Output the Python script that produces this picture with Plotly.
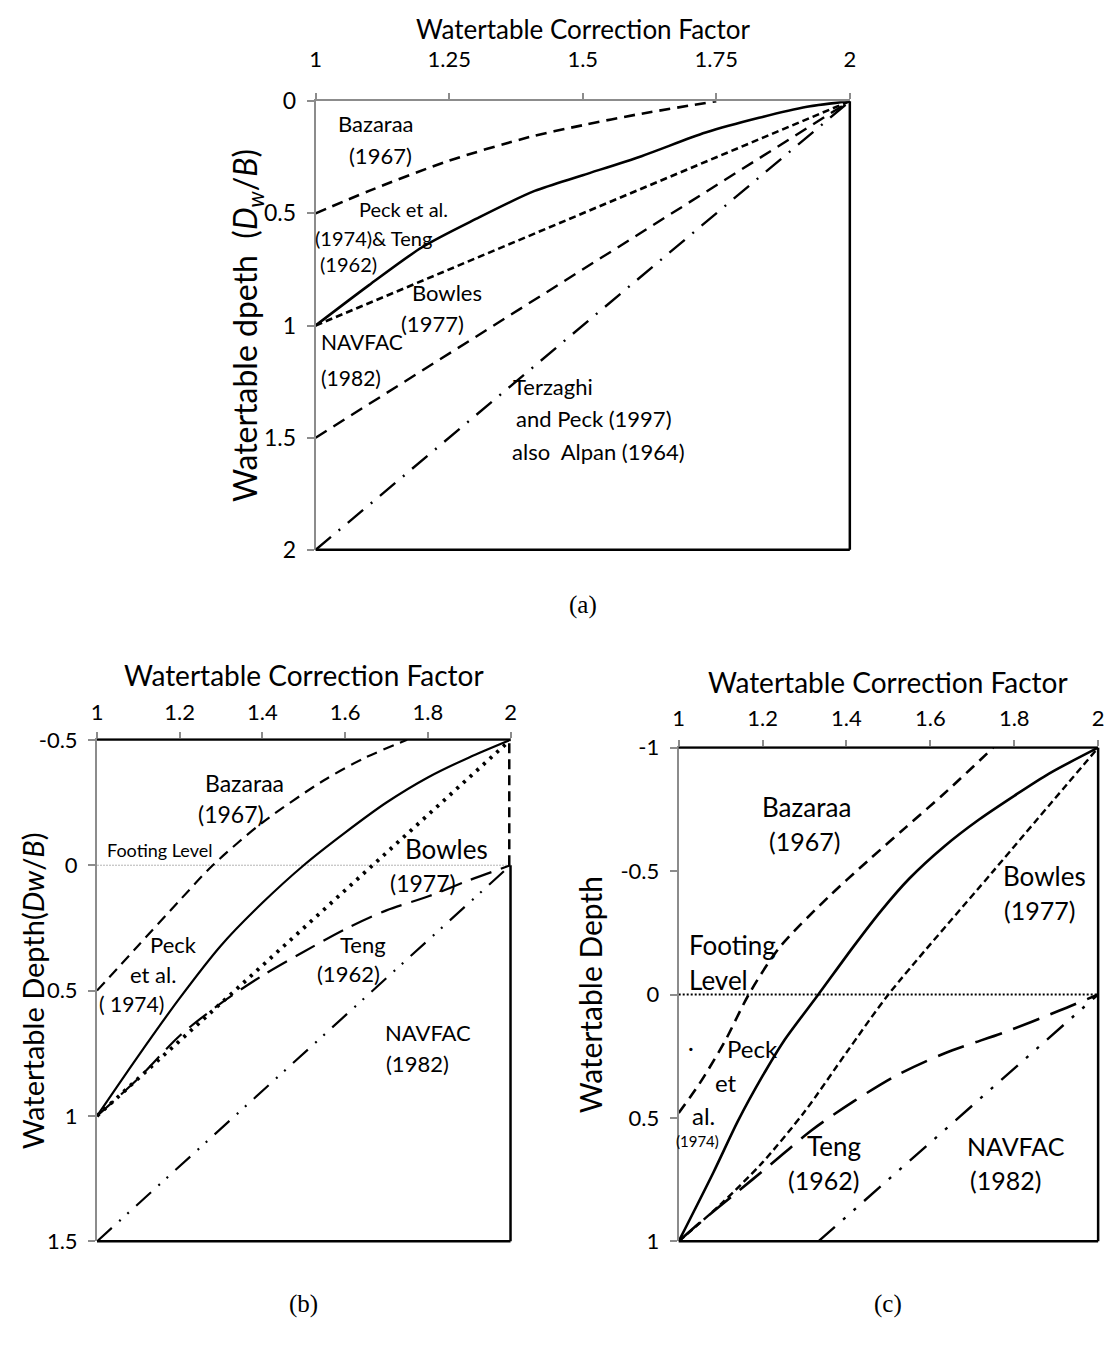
import plotly.graph_objects as go

# ---------------- data ----------------
# Panel (a): correction factor vs. watertable depth (Dw/B)
A_X_TICKS = [1, 1.25, 1.5, 1.75, 2]
A_Y_TICKS = [0, 0.5, 1, 1.5, 2]
A_BAZARAA_X = [1.0, 1.1, 1.25, 1.4, 1.5, 1.6, 1.75]
A_BAZARAA_Y = [0.5, 0.40, 0.265, 0.16, 0.107, 0.06, 0.0]
A_PECK_TENG_X = [1.0, 1.1, 1.2, 1.3, 1.41, 1.5, 1.61, 1.73, 1.83, 1.92, 2.0]
A_PECK_TENG_Y = [1.0, 0.82, 0.65, 0.525, 0.40, 0.33, 0.245, 0.14, 0.074, 0.025, 0.0]
A_BOWLES_X = [1, 2]
A_BOWLES_Y = [1, 0]
A_NAVFAC_X = [1, 2]
A_NAVFAC_Y = [1.5, 0]
A_TERZAGHI_X = [1, 2]
A_TERZAGHI_Y = [2, 0]

# Panel (b)
B_X_TICKS = [1, 1.2, 1.4, 1.6, 1.8, 2]
B_Y_TICKS = [-0.5, 0, 0.5, 1, 1.5]
B_BAZARAA_X = [1.0, 1.1, 1.2, 1.28, 1.4, 1.55, 1.65, 1.75]
B_BAZARAA_Y = [0.5, 0.32, 0.14, 0.0, -0.17, -0.34, -0.43, -0.5]
B_PECK_X = [1.0, 1.1, 1.2, 1.3, 1.4, 1.5, 1.6, 1.7, 1.8, 1.9, 2.0]
B_PECK_Y = [1.0, 0.76, 0.53, 0.32, 0.15, 0.0, -0.13, -0.25, -0.35, -0.43, -0.5]
B_BOWLES_X = [1, 2]
B_BOWLES_Y = [1, -0.5]
B_TENG_X = [1.0, 1.1, 1.2, 1.3, 1.4, 1.5, 1.6, 1.7, 1.8, 1.9, 2.0]
B_TENG_Y = [1.0, 0.85, 0.68, 0.55, 0.44, 0.345, 0.255, 0.18, 0.125, 0.06, 0.0]
B_ABOVE_X = [2, 2]
B_ABOVE_Y = [0, -0.5]
B_NAVFAC_X = [1, 2]
B_NAVFAC_Y = [1.5, 0]
B_FOOTING_X = [1, 2]
B_FOOTING_Y = [0, 0]

# Panel (c)
C_X_TICKS = [1, 1.2, 1.4, 1.6, 1.8, 2]
C_Y_TICKS = [-1, -0.5, 0, 0.5, 1]
C_BAZARAA_X = [1.0, 1.05, 1.11, 1.167, 1.24, 1.36, 1.45, 1.54, 1.64, 1.75]
C_BAZARAA_Y = [0.48, 0.36, 0.19, 0.0, -0.19, -0.40, -0.54, -0.675, -0.825, -1.0]
C_PECK_X = [1.0, 1.083, 1.142, 1.2, 1.25, 1.333, 1.417, 1.483, 1.55, 1.633, 1.717, 1.8, 1.883, 2.0]
C_PECK_Y = [1.0, 0.72, 0.51, 0.33, 0.19, 0.0, -0.195, -0.34, -0.47, -0.6, -0.71, -0.805, -0.895, -1.0]
C_BOWLES_X = [1.0, 1.1, 1.2, 1.3, 1.4, 1.5, 1.75, 2.0]
C_BOWLES_Y = [1.0, 0.85, 0.68, 0.475, 0.235, 0.0, -0.5, -1.0]
C_TENG_X = [1.0, 1.05, 1.133, 1.217, 1.317, 1.417, 1.517, 1.633, 1.783, 1.908, 2.0]
C_TENG_Y = [1.0, 0.925, 0.809, 0.692, 0.55, 0.433, 0.33, 0.239, 0.149, 0.065, 0.0]
C_NAVFAC_X = [1.333, 2.0]
C_NAVFAC_Y = [1.0, 0.0]
C_FOOTING_X = [1, 2]
C_FOOTING_Y = [0, 0]

# ---------------- layout helpers ----------------
W, H = 1116, 1367
FONT = "Lato"
SERIF = "Liberation Serif"
GRAY = "#8c8c8c"

def fx(px):
    return px / W

def fy(py):
    return 1 - py / H

# plot-area boxes in pixels: (left, right, top, bottom)
BOX_A = (313, 853, 88, 546)
BOX_B = (92, 510, 740, 1252)
BOX_C = (680, 1104, 748, 1252)

fig = go.Figure()

def line(x, y, xa, ya, dash, width=2.2, spline=False, color="black"):
    fig.add_trace(go.Scatter(
        x=x, y=y, xaxis=xa, yaxis=ya, mode="lines",
        line=dict(color=color, width=width, dash=dash,
                  shape="spline" if spline else "linear", smoothing=0.8),
        hoverinfo="skip", showlegend=False))

# (a)
line(A_BAZARAA_X, A_BAZARAA_Y, "x", "y", "11px,7px", 2.6, True)
line(A_PECK_TENG_X, A_PECK_TENG_Y, "x", "y", "solid", 2.6, True)
line(A_BOWLES_X, A_BOWLES_Y, "x", "y", "7px,4px", 2.6)
line(A_NAVFAC_X, A_NAVFAC_Y, "x", "y", "13px,8px", 2.4)
line(A_TERZAGHI_X, A_TERZAGHI_Y, "x", "y", "20px,10px,2px,10px", 2.4)

# (b)
line(B_FOOTING_X, B_FOOTING_Y, "x2", "y2", "2px,1px", 1, color="#b4b4b4")
line(B_BAZARAA_X, B_BAZARAA_Y, "x2", "y2", "11px,7px", 2.2, True)
line(B_PECK_X, B_PECK_Y, "x2", "y2", "solid", 2.2, True)
line(B_BOWLES_X, B_BOWLES_Y, "x2", "y2", "3px,6px", 3.8)
line(B_TENG_X, B_TENG_Y, "x2", "y2", "22px,10px", 2.2, True)
line(B_ABOVE_X, B_ABOVE_Y, "x2", "y2", "10px,6px", 5)
line(B_NAVFAC_X, B_NAVFAC_Y, "x2", "y2", "20px,10px,2px,9px,2px,10px", 2.2)

# (c)
line(C_FOOTING_X, C_FOOTING_Y, "x3", "y3", "2px,2px", 2)
line(C_BAZARAA_X, C_BAZARAA_Y, "x3", "y3", "11px,7px", 2.6, True)
line(C_PECK_X, C_PECK_Y, "x3", "y3", "solid", 2.6, True)
line(C_BOWLES_X, C_BOWLES_Y, "x3", "y3", "7px,4px", 2.4, True)
line(C_TENG_X, C_TENG_Y, "x3", "y3", "28px,12px", 2.6, True)
line(C_NAVFAC_X, C_NAVFAC_Y, "x3", "y3", "22px,11px,3px,11px,3px,11px", 2.4)


def axes(box, xticks, yticks, yrange, tick_size, xstand):
    l, r, t, b = box
    xa = dict(domain=[fx(l), fx(r)], range=[1, 2], side="top",
              tickvals=xticks, ticktext=[f"{v:g}" for v in xticks],
              showline=True, linecolor=GRAY, linewidth=2,
              ticks="outside", ticklen=6, tickcolor=GRAY, tickwidth=1.5,
              showgrid=False, zeroline=False, ticklabelstandoff=xstand,
              tickfont=dict(family=FONT, size=tick_size, color="black"))
    ya = dict(domain=[fy(b), fy(t)], range=yrange,
              tickvals=yticks, ticktext=[f"{v:g}" for v in yticks],
              showline=True, linecolor=GRAY, linewidth=2,
              ticks="outside", ticklen=7, tickcolor=GRAY, tickwidth=1.5,
              showgrid=False, zeroline=False, ticklabelstandoff=6,
              tickfont=dict(family=FONT, size=tick_size, color="black"))
    return xa, ya

xa1, ya1 = axes(BOX_A, A_X_TICKS, A_Y_TICKS, [2, 0], 22, 17)
xa2, ya2 = axes(BOX_B, B_X_TICKS, B_Y_TICKS, [1.5, -0.5], 22, 3)
xa3, ya3 = axes(BOX_C, C_X_TICKS, C_Y_TICKS, [1, -1], 22, 5)
ya1["tickfont"]["size"] = 23
xa1.update(anchor="y"); ya1.update(anchor="x")
xa2.update(anchor="y2"); ya2.update(anchor="x2")
xa3.update(anchor="y3"); ya3.update(anchor="x3")

# frame lines (black) on the right / bottom / top edges
shapes = []
def seg(x0, y0, x1, y1, w=2.5):
    shapes.append(dict(type="line", xref="paper", yref="paper",
                       x0=fx(x0), y0=fy(y0), x1=fx(x1), y1=fy(y1),
                       line=dict(color="black", width=w)))

l, r, t, b = BOX_A
seg(r, t, r, b); seg(l, b, r, b)
l, r, t, b = BOX_B
y_zero_b = t + (0 - (-0.5)) / 2.0 * (b - t)
seg(l, t, r, t, 2); seg(r, y_zero_b, r, b); seg(l, b, r, b)
l, r, t, b = BOX_C
seg(l, t, r, t, 2); seg(r, t, r, b); seg(l, b, r, b)

ann = []
def txt(s, x, y, xa, ya, size, family=FONT, **kw):
    ann.append(dict(text=s, x=x, y=y, xref=xa, yref=ya, showarrow=False,
                    xanchor="center", yanchor="middle",
                    font=dict(family=family, size=size, color="black"), **kw))

# (a) labels
txt("Bazaraa", 1.113, 0.10, "x", "y", 22)
txt("(1967)", 1.121, 0.24, "x", "y", 22)
txt("Peck et al.", 1.164, 0.48, "x", "y", 20)
txt("(1974)& Teng", 1.109, 0.612, "x", "y", 20)
txt("(1962)", 1.062, 0.727, "x", "y", 20)
txt("Bowles", 1.246, 0.851, "x", "y", 22)
txt("(1977)", 1.218, 0.99, "x", "y", 22)
txt("NAVFAC", 1.086, 1.07, "x", "y", 21)
txt("(1982)", 1.066, 1.232, "x", "y", 21)
txt("Terzaghi", 1.444, 1.273, "x", "y", 22)
txt("and Peck (1997)", 1.522, 1.416, "x", "y", 22)
txt("also\u00a0 Alpan (1964)", 1.53, 1.562, "x", "y", 22)

# (b) labels
txt("Bazaraa", 1.356, -0.327, "x2", "y2", 23)
txt("(1967)", 1.325, -0.203, "x2", "y2", 23)
txt("Footing Level", 1.15, -0.062, "x2", "y2", 18)
txt("Bowles", 1.846, -0.065, "x2", "y2", 26)
txt("(1977)", 1.788, 0.072, "x2", "y2", 23)
txt("Peck", 1.185, 0.318, "x2", "y2", 22)
txt("et al.", 1.135, 0.435, "x2", "y2", 22)
txt("( 1974)", 1.084, 0.552, "x2", "y2", 21)
txt("Teng", 1.644, 0.318, "x2", "y2", 22)
txt("(1962)", 1.609, 0.431, "x2", "y2", 22)
txt("NAVFAC", 1.80, 0.669, "x2", "y2", 22)
txt("(1982)", 1.776, 0.792, "x2", "y2", 22)

# (c) labels
txt("Bazaraa", 1.304, -0.76, "x3", "y3", 26)
txt("(1967)", 1.30, -0.623, "x3", "y3", 25)
txt("Bowles", 1.871, -0.48, "x3", "y3", 26)
txt("(1977)", 1.86, -0.344, "x3", "y3", 25)
txt("Footing", 1.129, -0.20, "x3", "y3", 26)
txt("Level", 1.096, -0.058, "x3", "y3", 26)
txt("·", 1.029, 0.213, "x3", "y3", 22)
txt("Peck", 1.175, 0.22, "x3", "y3", 24)
txt("et", 1.112, 0.356, "x3", "y3", 24)
txt("al.", 1.058, 0.49, "x3", "y3", 24)
txt("(1974)", 1.046, 0.595, "x3", "y3", 15)
txt("Teng", 1.371, 0.614, "x3", "y3", 26)
txt("(1962)", 1.346, 0.75, "x3", "y3", 25)
txt("NAVFAC", 1.804, 0.614, "x3", "y3", 25)
txt("(1982)", 1.779, 0.75, "x3", "y3", 25)

# axis titles and panel captions
txt("Watertable Correction Factor", fx(583), fy(14), "paper", "paper", 26)
txt("Watertable dpeth\u00a0\u00a0(<i>D<sub>w</sub></i>/<i>B</i>)", fx(243),
    fy((BOX_A[2] + BOX_A[3]) / 2), "paper", "paper", 32, textangle=-90)
txt("(a)", fx(583), fy(602), "paper", "paper", 25, family=SERIF)

txt("Watertable Correction Factor", fx(301), fy(674), "paper", "paper", 28)
txt("Watertable Depth(<i>Dw</i>/<i>B</i>)", fx(27),
    fy((BOX_B[2] + BOX_B[3]) / 2), "paper", "paper", 29, textangle=-90)
txt("(b)", fx(301), fy(1316), "paper", "paper", 25, family=SERIF)

txt("Watertable Correction Factor", fx(892), fy(681), "paper", "paper", 28)
txt("Watertable Depth", fx(590), fy((BOX_C[2] + BOX_C[3]) / 2),
    "paper", "paper", 30, textangle=-90)
txt("(c)", fx(892), fy(1316), "paper", "paper", 25, family=SERIF)

fig.update_layout(
    width=W, height=H, margin=dict(l=0, r=0, t=0, b=0),
    paper_bgcolor="white", plot_bgcolor="white",
    xaxis=xa1, yaxis=ya1, xaxis2=xa2, yaxis2=ya2, xaxis3=xa3, yaxis3=ya3,
    shapes=shapes, annotations=ann, showlegend=False,
    font=dict(family=FONT, color="black"),
)

fig.write_html("out.html")
